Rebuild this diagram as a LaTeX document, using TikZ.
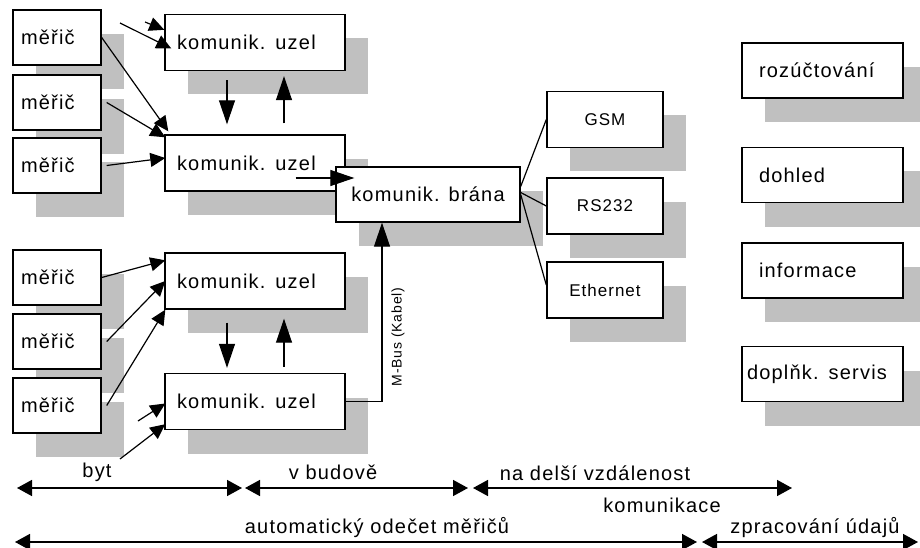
\documentclass[tikz,border=0pt]{standalone}
\usepackage{fontspec}
\setmainfont{Liberation Sans}[LetterSpace=6]
\usetikzlibrary{positioning,arrows.meta,shadows}
\definecolor{shgray}{RGB}{192,192,192}
\newcommand\lblfont{\fontsize{20}{24}\selectfont}
\newcommand\linkfont{\fontsize{17}{20}\selectfont}
\newcommand\busfont{\fontsize{14}{17}\selectfont}

\begin{document}
\begin{tikzpicture}
    [%%%%%%%%%%%%%%%%%%%%%%%%%%%%%%
    x=1pt,y=-1pt,
    font=\lblfont,
    box/.style={rectangle,draw=black,line width=1.4pt,fill=white,
        general shadow={fill=shgray,shadow xshift=23pt,shadow yshift=-24pt}},
    meter/.style={box,minimum height=55pt,text width=72pt,inner xsep=8pt,align=left},
    uzel/.style={box,minimum height=56pt,text width=156pt,inner xsep=12pt,align=left},
    link/.style={box,minimum width=116pt,minimum height=56pt,font=\linkfont},
    svc/.style={box,minimum height=55pt,text width=127pt,inner xsep=17pt,align=left},
    inarr/.style={-{Triangle[length=15pt,width=14pt]},line width=1.2pt},
    varr/.style={-{Triangle[length=24pt,width=16pt]},line width=1.2pt},
    span/.style={{Triangle[length=15pt,width=16pt]}-{Triangle[length=15pt,width=16pt]},line width=1.5pt},
    ]%%%%%%%%%%%%%%%%%%%%%%%%%%%%%%

    \useasboundingbox (0,0) rectangle (920,548);

    % meters
    \node[meter] (m1) at (57,37.5) {měřič};
    \node[meter] (m2) at (57,102.5) {měřič};
    \node[meter] (m3) at (57,165.5) {měřič};
    \node[meter] (m4) at (57,277.5) {měřič};
    \node[meter] (m5) at (57,341.5) {měřič};
    \node[meter] (m6) at (57,405.5) {měřič};

    % nodes
    \node[uzel] (u1) at (255,42.5) {komunik. uzel};
    \node[uzel] (u2) at (255,163) {komunik. uzel};
    \node[uzel] (u3) at (255,281) {komunik. uzel};
    \node[uzel] (u4) at (255,401.5) {komunik. uzel};

    % gateway
    \node[box,minimum width=184pt,minimum height=55pt] (brana) at (428,194.5) {komunik. brána};

    % links
    \node[link] (gsm) at (605,119.5) {GSM};
    \node[link] (rs) at (605,206) {RS232};
    \node[link] (eth) at (605,290) {Ethernet};

    % services
    \node[svc] (roz) at (822.5,70.5) {rozúčtování};
    \node[svc] (doh) at (822.5,175) {dohled};
    \node[svc] (inf) at (822.5,270.5) {informace};
    \node[svc,inner xsep=5pt,text width=151pt] (dop) at (822.5,374) {doplňk. servis};

    % inputs
    \coordinate (in1) at (120,23);
    \coordinate (in2) at (145,22);
    \coordinate (in3) at (138,421);
    \coordinate (in4) at (120,459);
    \draw[inarr] (in1) -- ([xshift=7pt,yshift=-6pt]u1.west);
    \draw[inarr] (in2) -- ([yshift=-16pt]u1.north west);
    \draw[inarr] (m1.east) -- ([xshift=4pt,yshift=3pt]u2.north west);
    \draw[inarr] ([xshift=5pt]m2.east) -- ([xshift=1pt,yshift=-3pt]u2.north west);
    \draw[inarr] ([xshift=5pt]m3.east) -- ([xshift=1pt,yshift=5pt]u2.west);
    \draw[inarr] (m4.east) -- ([xshift=1pt,yshift=-8pt]u3.north west);
    \draw[inarr] ([xshift=5pt]m5.east) -- ([xshift=1pt]u3.west);
    \draw[inarr] ([xshift=5pt]m6.east) -- ([xshift=1pt]u3.south west);
    \draw[inarr] (in3) -- ([xshift=1pt,yshift=-2pt]u4.west);
    \draw[inarr] (in4) -- ([xshift=1pt,yshift=6pt]u4.south west);

    % between nodes
    \draw[varr] ([xshift=-28pt,yshift=-9pt]u1.south) -- ([xshift=-28pt,yshift=10pt]u2.north);
    \draw[varr] ([xshift=29pt,yshift=11pt]u2.north) -- ([xshift=29pt,yshift=-5pt]u1.south);
    \draw[varr] ([xshift=-28pt,yshift=-13pt]u3.south) -- ([xshift=-28pt,yshift=5pt]u4.north);
    \draw[varr] ([xshift=29pt,yshift=6pt]u4.north) -- ([xshift=29pt,yshift=-9pt]u3.south);

    % to gateway
    \draw[varr] ([xshift=-50pt,yshift=-15pt]u2.east) -- ([xshift=19pt,yshift=16.5pt]brana.west);
    \draw[varr] (u4.east) -| ([xshift=-46pt]brana.south);
    \node[rotate=90,font=\busfont] (mbus) at (398,337) {M-Bus (Kabel)};

    % gateway to links
    \draw[line width=1.2pt] ([yshift=8pt]brana.east) -- (gsm.west);
    \draw[line width=1.2pt] ([yshift=2pt]brana.east) -- (rs.west);
    \draw[line width=1.2pt] (brana.east) -- ([yshift=5pt]eth.west);

    % spans
    \coordinate (a0) at (17,488);
    \coordinate (a1) at (242,488);
    \coordinate (a2) at (245,488);
    \coordinate (a3) at (468,488);
    \coordinate (a4) at (473,488);
    \coordinate (a5) at (792,488);
    \coordinate (b0) at (15,542);
    \coordinate (b1) at (697,542);
    \coordinate (b2) at (702,542);
    \coordinate (b3) at (918,542);
    \draw[span] (a0) -- (a1);
    \draw[span] (a2) -- (a3);
    \draw[span] (a4) -- (a5);
    \draw[span] (b0) -- (b1);
    \draw[span] (b2) -- (b3);

    \node (byt) at (97,472) {byt};
    \node (bud) at (333,472) {v budově};
    \node (dal) at (595,473) {na delší vzdálenost};
    \node (kom) at (662,505) {komunikace};
    \node (aut) at (377,528) {automatický odečet měřičů};
    \node (zpr) at (815,528) {zpracování údajů};

\end{tikzpicture}
\end{document}
